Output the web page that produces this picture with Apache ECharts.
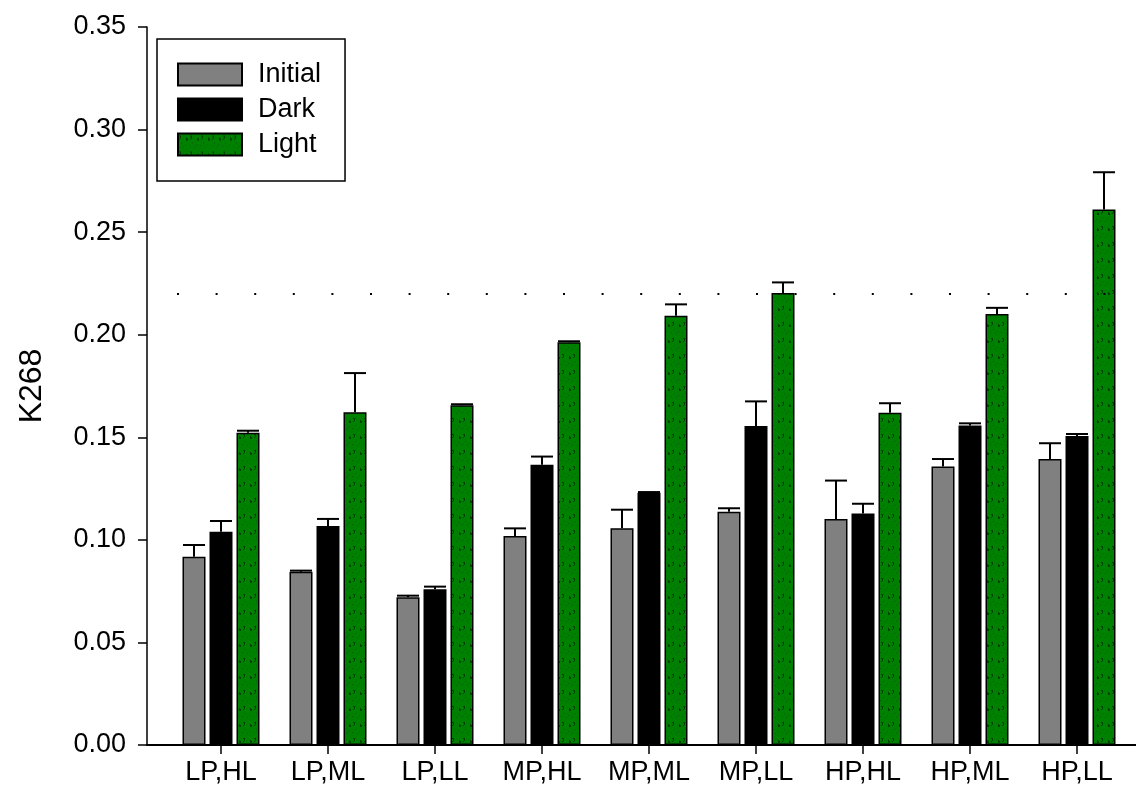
<!DOCTYPE html>
<html>
<head>
<meta charset="utf-8">
<script src="https://cdn.jsdelivr.net/npm/echarts@6/dist/echarts.min.js"></script>
<style>
html,body{margin:0;padding:0;background:#fff;}
#chart{width:1136px;height:790px;}
</style>
</head>
<body>
<div id="chart"></div>
<script>
// ---- data ----
const categories = ['LP,HL','LP,ML','LP,LL','MP,HL','MP,ML','MP,LL','HP,HL','HP,ML','HP,LL'];
const initialVals = [0.0918,0.0845,0.0720,0.1019,0.1057,0.1137,0.1102,0.1357,0.1394];
const initialErr  = [0.0057,0.0005,0.0008,0.0037,0.0090,0.0017,0.0187,0.0037,0.0077];
const darkVals    = [0.1040,0.1068,0.0759,0.1366,0.1230,0.1555,0.1129,0.1558,0.1506];
const darkErr     = [0.0052,0.0034,0.0013,0.0040,0.0003,0.0120,0.0047,0.0010,0.0010];
const lightVals   = [0.1522,0.1622,0.1656,0.1963,0.2093,0.2203,0.1620,0.2101,0.2610];
const lightErr    = [0.0010,0.0191,0.0005,0.0005,0.0055,0.0052,0.0046,0.0030,0.0182];
const refLine = 0.22;
const yTicks = {min:0, max:0.35, interval:0.05};

// ---- style ----
const FONT = 'Liberation Sans, Arial, sans-serif';
const BAR_W = 23, BAR_STEP = 27;

function makePattern(){
  const c = document.createElement('canvas');
  c.width = 11; c.height = 16;
  const g = c.getContext('2d');
  g.fillStyle = '#008000'; g.fillRect(0,0,11,16);
  g.fillStyle = '#004000';
  g.fillRect(1,2,2,1); g.fillRect(2,3,1,2); g.fillRect(1,5,1,1);
  g.fillRect(8,4,1,3); g.fillRect(9,5,1,2);
  g.fillStyle = '#0a5c0a';
  g.fillRect(3,9,1,1); g.fillRect(7,11,1,1); g.fillRect(5,13,1,1); g.fillRect(0,12,1,1);
  return c;
}
const greenPattern = {image: makePattern(), repeat: 'repeat'};

function errSeries(name, vals, errs, offIdx, extra){
  return Object.assign({
    type: 'custom',
    name: name + ' err',
    xAxisIndex: 0, yAxisIndex: 0,
    z: 5,
    silent: true,
    data: vals.map((v,i)=>[i, v, errs[i]]),
    encode: {x: 0, y: 1},
    renderItem: function(params, api){
      const i = api.value(0), v = api.value(1), e = api.value(2);
      const b = api.coord([i, v]);
      const t = api.coord([i, v + e]);
      const x = b[0] + offIdx * BAR_STEP;
      const st = {stroke: '#000', lineWidth: 2};
      return {type: 'group', children: [
        {type: 'line', shape: {x1: x, y1: b[1], x2: x, y2: t[1]}, style: st},
        {type: 'line', shape: {x1: x - 11, y1: t[1], x2: x + 11, y2: t[1]}, style: st}
      ]};
    }
  }, extra || {});
}

const chart = echarts.init(document.getElementById('chart'), null, {renderer: 'canvas'});
const option = {
  animation: false,
  backgroundColor: '#fff',
  textStyle: {fontFamily: FONT, color: '#000'},
  grid: [
    {left: 167.5, right: 5.5, top: 27, bottom: 45},
    {left: 147, right: 0, top: 27, bottom: 45}
  ],
  legend: {
    left: 157, top: 39,
    orient: 'vertical',
    data: ['Initial','Dark','Light'],
    itemWidth: 64, itemHeight: 22, itemGap: 8,
    padding: [22, 24, 23, 20],
    borderColor: '#000', borderWidth: 1.5,
    icon: 'rect',
    textStyle: {fontFamily: FONT, fontSize: 27, color: '#000', padding: [0,0,0,11]},
    selectedMode: false
  },
  xAxis: [
    {
      type: 'category', gridIndex: 0, data: categories,
      boundaryGap: true,
      axisLine: {show: false},
      axisTick: {show: true, alignWithLabel: true, length: 9, lineStyle: {color: '#000', width: 1.5}},
      axisLabel: {fontFamily: FONT, fontSize: 27, color: '#000', margin: 14},
      splitLine: {show: false}
    },
    {
      type: 'value', gridIndex: 1, min: 0, max: 1,
      axisLine: {show: true, lineStyle: {color: '#000', width: 2}},
      axisTick: {show: false}, axisLabel: {show: false}, splitLine: {show: false}
    }
  ],
  yAxis: [
    {
      type: 'value', gridIndex: 0,
      min: yTicks.min, max: yTicks.max, interval: yTicks.interval,
      offset: 20.5,
      name: 'K268', nameLocation: 'middle', nameGap: 99, nameRotate: 90,
      nameTextStyle: {fontFamily: FONT, fontSize: 32, color: '#000'},
      axisLine: {show: true, lineStyle: {color: '#000', width: 1.5}},
      axisTick: {show: true, length: 9, lineStyle: {color: '#000', width: 1.5}},
      axisLabel: {fontFamily: FONT, fontSize: 27, color: '#000', margin: 21,
                  formatter: v => v.toFixed(2)},
      splitLine: {show: false}
    },
    {type: 'value', gridIndex: 1, show: false, min: 0, max: 1}
  ],
  series: [
    {
      type: 'bar', name: 'Initial', data: initialVals,
      barWidth: BAR_W, barGap: ((BAR_STEP - BAR_W) / BAR_W * 100) + '%',
      itemStyle: {color: '#808080', borderColor: '#000', borderWidth: 1.5}
    },
    {
      type: 'bar', name: 'Dark', data: darkVals,
      barWidth: BAR_W,
      itemStyle: {color: '#000', borderColor: '#000', borderWidth: 1.5}
    },
    {
      type: 'bar', name: 'Light', data: lightVals,
      barWidth: BAR_W,
      itemStyle: {color: greenPattern, borderColor: '#000', borderWidth: 1.5}
    },
    errSeries('Initial', initialVals, initialErr, -1),
    errSeries('Dark', darkVals, darkErr, 0),
    errSeries('Light', lightVals, lightErr, 1, {
      markLine: {
        silent: true, symbol: 'none', label: {show: false},
        lineStyle: {color: '#000', width: 2, type: [2, 36.6], dashOffset: 29.1},
        data: [{yAxis: refLine}]
      }
    })
  ]
};
chart.setOption(option);
</script>
</body>
</html>
